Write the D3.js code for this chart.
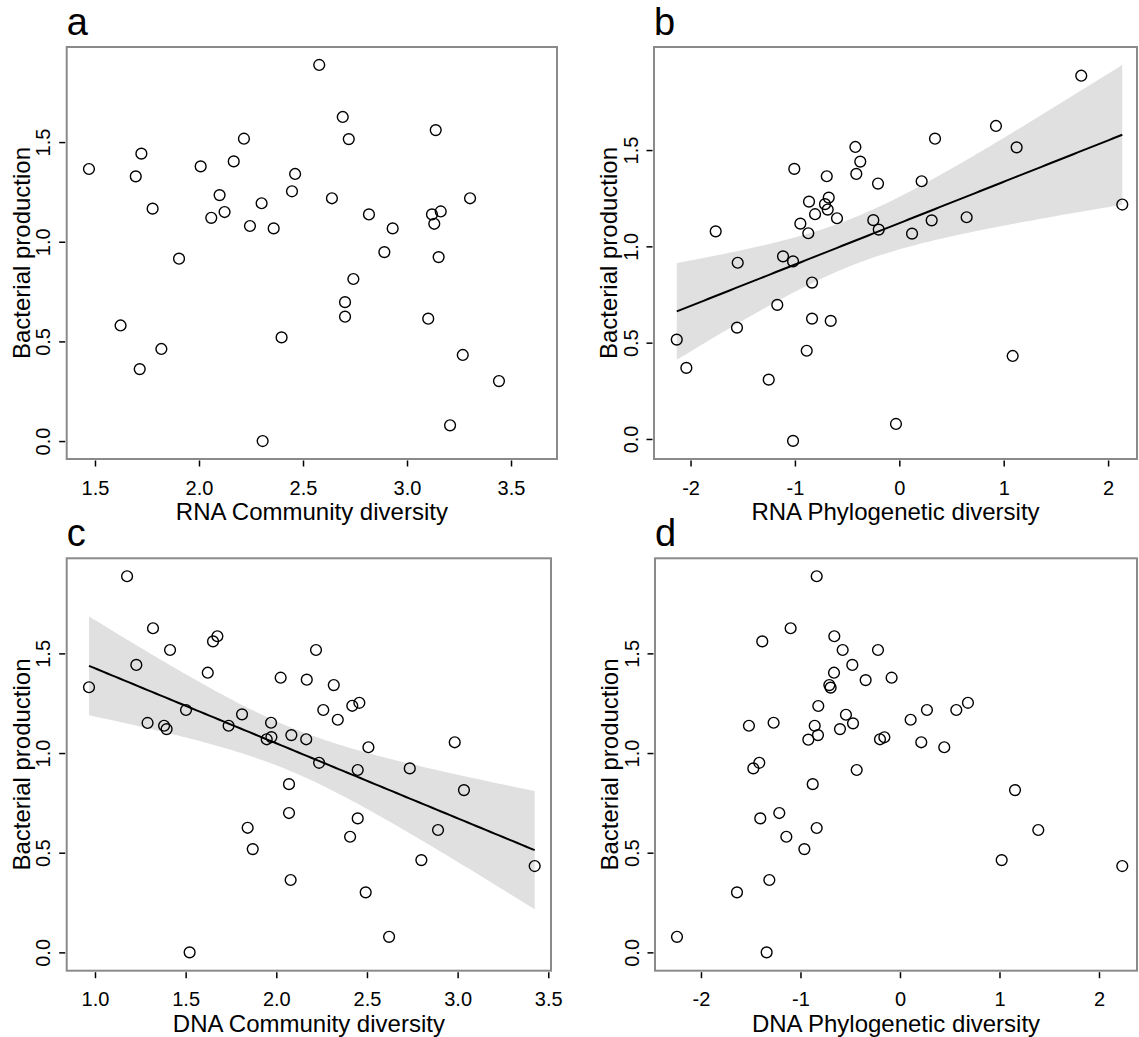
<!DOCTYPE html>
<html>
<head>
<meta charset="utf-8">
<script src="https://cdn.jsdelivr.net/npm/d3@7"></script>
<style>
  body { margin: 0; background: #fff; }
  svg text { font-family: "Liberation Sans", Arial, sans-serif; fill: #000; }
</style>
</head>
<body>
<div id="chart"></div>
<script>
// --- data ---
const rnaCommX = [2.578,1.471,1.723,1.696,1.777,2.008,2.216,2.167,2.099,2.059,2.123,2.301,2.245,2.359,2.462,2.447,1.904,1.623,1.819,1.715,2.397,2.306,2.691,2.720,3.138,2.639,2.817,2.931,2.891,2.742,2.702,2.702,3.120,3.162,3.131,3.152,3.303,3.102,3.268,3.442,3.207];
const rnaCommY = [1.887,1.365,1.442,1.328,1.166,1.378,1.517,1.403,1.234,1.120,1.149,1.193,1.079,1.067,1.340,1.253,0.915,0.580,0.462,0.361,0.520,0.000,1.626,1.515,1.560,1.218,1.137,1.067,0.948,0.813,0.697,0.624,1.137,1.152,1.090,0.923,1.218,0.614,0.432,0.301,0.079];

const rnaPhyloX = [-2.132,-2.040,-1.759,-1.548,-1.555,-1.251,-1.169,-1.114,-1.018,-1.006,-1.018,-0.887,-0.836,-0.657,-0.836,-0.948,-0.872,-0.865,-0.807,-0.695,-0.676,-0.712,-0.686,-0.597,-0.421,-0.374,-0.412,-0.204,-0.249,-0.197,-0.032,0.214,0.342,0.310,0.122,0.645,0.926,1.124,1.086,1.743,2.136];
const rnaPhyloY = [0.516,0.369,1.078,0.915,0.578,0.308,0.696,0.948,0.922,1.402,-0.010,0.458,0.625,0.613,0.812,1.118,1.068,1.232,1.167,1.364,1.253,1.219,1.191,1.146,1.516,1.440,1.376,1.326,1.136,1.087,0.078,1.338,1.559,1.135,1.066,1.151,1.625,1.514,0.431,1.886,1.217];

const dnaCommX = [1.177,0.967,1.320,1.228,1.414,1.290,1.381,1.395,1.502,1.651,1.675,1.622,1.737,1.811,1.971,1.947,1.973,2.083,2.165,2.024,2.168,2.219,2.070,2.070,1.842,1.870,2.079,1.522,2.317,2.259,2.339,2.419,2.458,2.236,2.508,2.449,2.736,2.984,3.035,2.449,2.407,2.892,2.800,2.493,2.622,3.425];
const dnaCommY = [1.887,1.330,1.626,1.442,1.517,1.151,1.137,1.120,1.216,1.560,1.586,1.403,1.137,1.194,1.152,1.069,1.080,1.090,1.069,1.378,1.368,1.517,0.844,0.699,0.625,0.518,0.363,0.000,1.341,1.216,1.167,1.237,1.252,0.951,1.029,0.915,0.923,1.054,0.814,0.672,0.580,0.614,0.463,0.301,0.078,0.433];

const dnaPhyloX = [-0.837,-1.099,-1.384,-0.660,-0.576,-0.221,-0.479,-0.663,-0.345,-0.084,-0.710,-0.697,-0.821,-0.543,-0.472,-0.603,-0.857,-0.824,-0.921,-1.518,-1.270,-0.201,-0.157,-1.474,-1.414,-0.435,-0.877,-1.404,-1.213,-0.837,-1.142,-0.961,-1.313,-1.638,-2.241,-1.340,0.107,0.271,0.566,0.683,0.214,0.445,1.156,1.390,1.022,2.234];
const dnaPhyloY = [1.887,1.626,1.560,1.586,1.517,1.517,1.442,1.403,1.366,1.378,1.341,1.328,1.236,1.192,1.149,1.120,1.137,1.090,1.067,1.137,1.152,1.069,1.079,0.923,0.951,0.915,0.844,0.672,0.699,0.624,0.580,0.518,0.363,0.301,0.078,0.000,1.167,1.216,1.216,1.252,1.054,1.029,0.814,0.614,0.463,0.433];

const yTicks = [0, 0.5, 1.0, 1.5];
const commTicksRna = [1.5, 2.0, 2.5, 3.0, 3.5];
const commTicksDna = [1.0, 1.5, 2.0, 2.5, 3.0, 3.5];
const phyloTicks = [-2, -1, 0, 1, 2];

const panelLetters = ["a", "b", "c", "d"];
const xTitles = ["RNA Community diversity", "RNA Phylogenetic diversity", "DNA Community diversity", "DNA Phylogenetic diversity"];
const yTitle = "Bacterial production";

const width = 1139, height = 1037;

// plain hyphen minus like the original figure
const fmt1 = d => d.toFixed(1);
const fmtInt = d => String(d);

// box positions and axis domains per panel
const panels = [
  { x: rnaCommX,  y: rnaCommY,  xt: commTicksRna, fmt: fmt1,   fit: false,
    box: [66.7, 47, 557, 459],    xd: [1.364, 3.721],  yd: [-0.090, 1.977] },
  { x: rnaPhyloX, y: rnaPhyloY, xt: phyloTicks,   fmt: fmtInt, fit: true,
    box: [654, 47, 1137, 459],    xd: [-2.350, 2.277], yd: [-0.104, 2.035] },
  { x: dnaCommX,  y: dnaCommY,  xt: commTicksDna, fmt: fmt1,   fit: true,
    box: [66.7, 558.3, 551, 970.7], xd: [0.844, 3.515], yd: [-0.092, 1.977] },
  { x: dnaPhyloX, y: dnaPhyloY, xt: phyloTicks,   fmt: fmtInt, fit: false,
    box: [655, 558.3, 1137, 970.7], xd: [-2.462, 2.382], yd: [-0.092, 1.977] }
];

// t quantile (0.975) approximation
function tCrit(df) {
  const z = 1.959964;
  return z + (z ** 3 + z) / (4 * df) + (5 * z ** 5 + 16 * z ** 3 + 3 * z) / (96 * df * df);
}

function linFit(xs, ys) {
  const n = xs.length;
  const mx = d3.mean(xs), my = d3.mean(ys);
  let sxx = 0, sxy = 0;
  xs.forEach((v, i) => { sxx += (v - mx) ** 2; sxy += (v - mx) * (ys[i] - my); });
  const b = sxy / sxx, a = my - b * mx;
  let sse = 0;
  xs.forEach((v, i) => { sse += (ys[i] - a - b * v) ** 2; });
  const s = Math.sqrt(sse / (n - 2));
  const t = tCrit(n - 2);
  const x0 = d3.min(xs), x1 = d3.max(xs);
  return d3.range(0, 101).map(k => {
    const xv = x0 + (x1 - x0) * k / 100;
    const yv = a + b * xv;
    const se = s * Math.sqrt(1 / n + (xv - mx) ** 2 / sxx);
    return { x: xv, y: yv, lo: yv - t * se, hi: yv + t * se };
  });
}

const svg = d3.select("#chart").append("svg")
  .attr("width", width)
  .attr("height", height);

panels.forEach((p, i) => {
  const [l, t, r, b] = p.box;
  const x = d3.scaleLinear().domain(p.xd).range([l, r]);
  const y = d3.scaleLinear().domain(p.yd).range([b, t]);
  const g = svg.append("g");

  // regression band + line
  if (p.fit) {
    const fit = linFit(p.x, p.y);
    g.append("path")
      .datum(fit)
      .attr("d", d3.area().x(d => x(d.x)).y0(d => y(d.lo)).y1(d => y(d.hi)))
      .attr("fill", "#e0e0e0");
    g.append("path")
      .datum(fit)
      .attr("d", d3.line().x(d => x(d.x)).y(d => y(d.y)))
      .attr("fill", "none")
      .attr("stroke", "#000")
      .attr("stroke-width", 2);
  }

  // points
  g.selectAll("circle")
    .data(p.x.map((v, k) => [v, p.y[k]]))
    .enter().append("circle")
    .attr("cx", d => x(d[0]))
    .attr("cy", d => y(d[1]))
    .attr("r", 5.4)
    .attr("fill", "none")
    .attr("stroke", "#000")
    .attr("stroke-width", 1.4);

  // box
  g.append("rect")
    .attr("x", l).attr("y", t)
    .attr("width", r - l).attr("height", b - t)
    .attr("fill", "none")
    .attr("stroke", "#8a8a8a")
    .attr("stroke-width", 2);

  // x axis
  const xa = g.append("g")
    .attr("transform", `translate(0, ${b + 1.5})`)
    .call(d3.axisBottom(x).tickValues(p.xt).tickFormat(p.fmt).tickSize(6).tickSizeOuter(0));
  xa.select(".domain").remove();
  xa.selectAll(".tick line").attr("stroke", "#000").attr("stroke-width", 1.5);
  xa.selectAll(".tick text")
    .attr("y", 20).attr("dy", "0.71em")
    .style("font-size", "20px")
    .attr("font-family", null);

  // y axis, labels rotated
  const ya = g.append("g")
    .attr("transform", `translate(${l - 1.5}, 0)`)
    .call(d3.axisLeft(y).tickValues(yTicks).tickFormat(fmt1).tickSize(6).tickSizeOuter(0));
  ya.select(".domain").remove();
  ya.selectAll(".tick line").attr("stroke", "#000").attr("stroke-width", 1.5);
  ya.selectAll(".tick text")
    .attr("x", 0).attr("y", -15).attr("dy", 0)
    .attr("transform", "rotate(-90)")
    .attr("text-anchor", "middle")
    .style("font-size", "20px")
    .attr("font-family", null);

  // titles
  g.append("text")
    .attr("x", (l + r) / 2)
    .attr("y", b + 61)
    .attr("text-anchor", "middle")
    .style("font-size", "24px")
    .text(xTitles[i]);

  g.append("text")
    .attr("transform", `translate(${l - 37}, ${(t + b) / 2}) rotate(-90)`)
    .attr("text-anchor", "middle")
    .style("font-size", "24px")
    .text(yTitle);

  g.append("text")
    .attr("x", l)
    .attr("y", t - 12)
    .style("font-size", "38px")
    .text(panelLetters[i]);
});
</script>
</body>
</html>
